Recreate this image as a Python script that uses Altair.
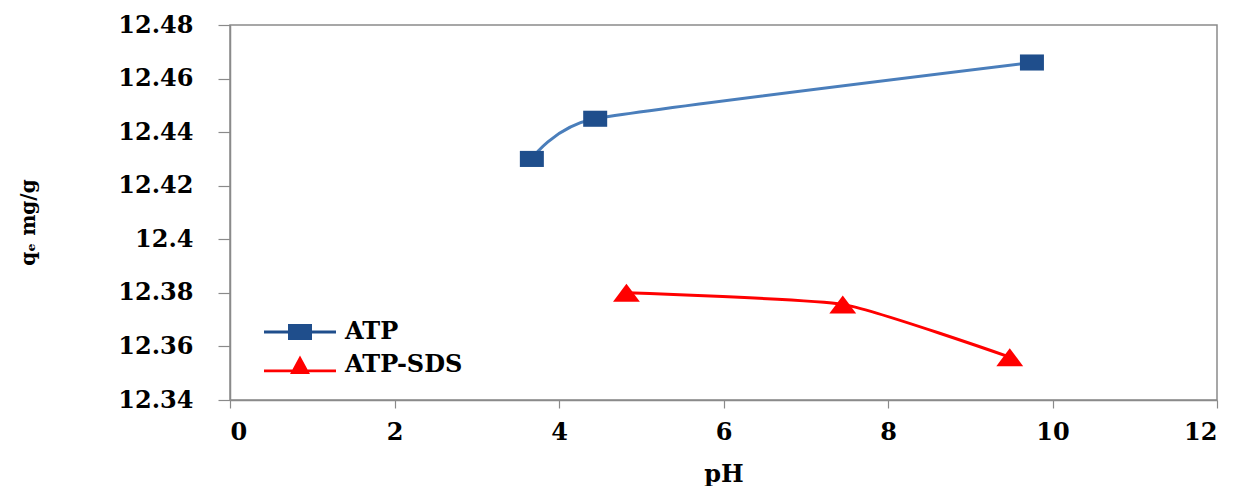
import altair as alt
import pandas as pd

# ---- data ----
ph_atp = [3.67, 4.44, 9.75]
qe_atp = [12.430, 12.445, 12.466]
ph_sds = [4.82, 7.45, 9.48]
qe_sds = [12.380, 12.3757, 12.356]

series_names = ["ATP", "ATP-SDS"]
x_ticks = [0, 2, 4, 6, 8, 10, 12]
y_ticks = [12.34, 12.36, 12.38, 12.40, 12.42, 12.44, 12.46, 12.48]

line_colors = ["#4A7EBB", "#FF0000"]
marker_colors = ["#1F4E8C", "#FF0000"]
marker_paths = [
    "M-1,-0.67H1V0.67H-1Z",
    "M0,-0.75L1.12,0.75H-1.12Z",
]
legend_paths = [
    "M-3,-0.12H-1V-0.67H1V-0.12H3V0.12H1V0.67H-1V0.12H-3Z",
    "M-3,0.37H-0.63L0,-0.8L0.63,0.37H3V0.61H0.75L0.83,0.75H-0.83L-0.75,0.61H-3Z",
]

df = pd.DataFrame({
    "pH": ph_atp + ph_sds,
    "qe": qe_atp + qe_sds,
    "series": [series_names[0]] * len(ph_atp) + [series_names[1]] * len(ph_sds),
    "order": list(range(len(ph_atp))) + list(range(len(ph_sds))),
})

FONT = "DejaVu Serif"

x_enc = alt.X(
    "pH:Q",
    scale=alt.Scale(domain=[0, 12], nice=False, zero=False),
    axis=alt.Axis(
        values=x_ticks, format="d", title="pH", grid=False,
        tickSize=8, labelPadding=12, titleY=74, titleBaseline="middle",
    ),
)
y_enc = alt.Y(
    "qe:Q",
    scale=alt.Scale(domain=[12.34, 12.48], nice=False, zero=False),
    axis=alt.Axis(
        values=y_ticks, format=".4~g", title="qₑ mg/g", grid=False,
        tickSize=12, labelPadding=25, titleX=-202, titleY=197,
        titleAngle=270, titleAlign="center", titleBaseline="middle",
        titleFontSize=20,
    ),
)

base = alt.Chart(df)

lines = base.mark_line(interpolate="cardinal", tension=0.5, strokeWidth=3).encode(
    x=x_enc, y=y_enc,
    color=alt.Color("series:N", scale=alt.Scale(domain=series_names, range=line_colors), legend=None),
    order="order:Q",
)

points = base.mark_point(filled=True, size=576, opacity=1, strokeWidth=0).encode(
    x=x_enc, y=y_enc,
    color=alt.Color("series:N", scale=alt.Scale(domain=series_names, range=marker_colors), legend=None),
    shape=alt.Shape("series:N", scale=alt.Scale(domain=series_names, range=marker_paths), legend=None),
)

leg = alt.Legend(
    orient="none", legendX=58, legendY=295, title=None,
    labelFont=FONT, labelFontWeight="bold", labelFontSize=24, labelColor="black",
    labelOffset=33, rowPadding=9, padding=0, symbolStrokeWidth=0,
    symbolOpacity=1, symbolSize=576,
)

legend_layer = base.transform_filter("false").mark_point(filled=True, size=576, strokeWidth=0).encode(
    x=x_enc, y=y_enc,
    color=alt.Color("series:N", scale=alt.Scale(domain=series_names, range=marker_colors), legend=leg),
    shape=alt.Shape("series:N", scale=alt.Scale(domain=series_names, range=legend_paths), legend=leg),
)

chart = (
    alt.layer(lines, points, legend_layer)
    .resolve_scale(color="independent", shape="independent")
    .properties(
        width=987, height=375,
        padding={"left": 230, "top": 25, "right": 33, "bottom": 86},
        autosize="none",
        background="white",
    )
    .configure_view(stroke="#8A8A8A", strokeWidth=1.5)
    .configure_axis(
        labelFont=FONT, labelFontWeight="bold", labelFontSize=24, labelColor="black",
        titleFont=FONT, titleFontWeight="bold", titleFontSize=24, titleColor="black",
        domainColor="#8A8A8A", domainWidth=1.5, tickColor="#8A8A8A", tickWidth=1.2,
    )
)

chart.save("out.html", embed_options={"renderer": "svg", "actions": False})
